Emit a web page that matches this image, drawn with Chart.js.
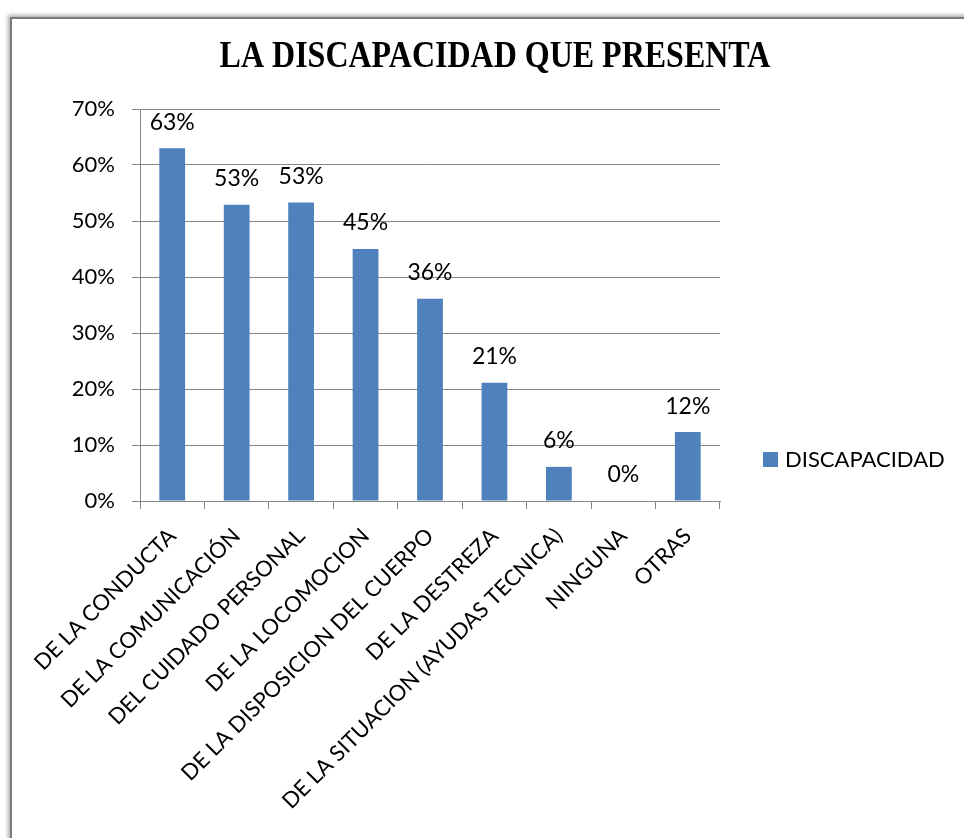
<!DOCTYPE html>
<html>
<head>
<meta charset="utf-8">
<script src="https://cdn.jsdelivr.net/npm/chart.js@4.4.1/dist/chart.umd.min.js"></script>
<style>
  html, body { margin: 0; padding: 0; background: #fff; overflow: hidden; }
  #frame {
    position: absolute; left: 10px; top: 17px; width: 1000px; height: 900px;
    border: 2px solid #7a7a7a; box-shadow: -2px -2px 4px #b0b0b0, 2px 2px 4px #b0b0b0;
  }
  #wrap { position: absolute; left: 0; top: 0; width: 964px; height: 838px; }
</style>
</head>
<body>
<div id="frame"></div>
<div id="wrap"><canvas id="myChart" width="964" height="838"></canvas></div>
<script>
// data
const categories = [
  "DE LA CONDUCTA", "DE LA COMUNICACIÓN", "DEL CUIDADO PERSONAL", "DE LA LOCOMOCION",
  "DE LA DISPOSICION DEL CUERPO", "DE LA DESTREZA", "DE LA SITUACION (AYUDAS TECNICA)",
  "NINGUNA", "OTRAS"
];
const discapacidad = [0.63, 0.529, 0.533, 0.45, 0.361, 0.211, 0.061, 0, 0.123];
const valueLabels = ["63%", "53%", "53%", "45%", "36%", "21%", "6%", "0%", "12%"];
const seriesName = "DISCAPACIDAD";
const titleText = "LA DISCAPACIDAD QUE PRESENTA";

const barBlue = "#4F81BD";
const gridGray = "#868686";
const labelFont = "Lato, 'Noto Sans', sans-serif";

// title, centred on the whole frame rather than the plot
const frameTitle = {
  id: "frameTitle",
  afterDraw(chart) {
    const ctx = chart.ctx;
    ctx.save();
    ctx.translate(495, 57);
    ctx.scale(1, 1.2);
    ctx.font = "bold 32px 'Liberation Serif', 'Times New Roman', serif";
    ctx.fillStyle = "#000";
    ctx.textAlign = "center";
    ctx.textBaseline = "middle";
    ctx.fillText(titleText, 0, 0);
    ctx.restore();
  }
};

// value labels above bars
const barLabels = {
  id: "barLabels",
  afterDatasetsDraw(chart) {
    const ctx = chart.ctx;
    const meta = chart.getDatasetMeta(0);
    ctx.save();
    ctx.font = "23px " + labelFont;
    ctx.fillStyle = "#000";
    ctx.textAlign = "center";
    ctx.textBaseline = "middle";
    meta.data.forEach((bar, i) => {
      ctx.fillText(valueLabels[i], bar.x, bar.y - 26);
    });
    ctx.restore();
  }
};

// legend on the right, like the excel one
const sideLegend = {
  id: "sideLegend",
  afterDraw(chart) {
    const ctx = chart.ctx;
    ctx.save();
    ctx.fillStyle = barBlue;
    ctx.fillRect(763, 452, 15, 15);
    ctx.font = "22px " + labelFont;
    ctx.fillStyle = "#000";
    ctx.textBaseline = "middle";
    ctx.textAlign = "left";
    ctx.fillText(seriesName, 785, 460);
    ctx.restore();
  }
};

const ctx = document.getElementById("myChart").getContext("2d");
new Chart(ctx, {
  type: "bar",
  data: {
    labels: categories,
    datasets: [{
      label: seriesName,
      data: discapacidad,
      backgroundColor: barBlue,
      barPercentage: 0.4,
      categoryPercentage: 1.0
    }]
  },
  options: {
    responsive: false,
    animation: false,
    layout: { padding: { left: 0, right: 244, top: 109, bottom: 0 } },
    plugins: {
      legend: { display: false },
      tooltip: { enabled: false },
      title: { display: false }
    },
    scales: {
      x: {
        afterFit(scale) { scale.height = 337; },
        grid: { offset: true, drawOnChartArea: false, color: gridGray, tickLength: 8 },
        border: { color: gridGray },
        ticks: {
          color: "#000",
          font: { family: labelFont, size: 22 },
          minRotation: 45,
          maxRotation: 45,
          padding: 14,
          autoSkip: false
        }
      },
      y: {
        min: 0,
        max: 0.7,
        afterFit(scale) { scale.width = 140; },
        grid: { color: gridGray, tickLength: 8 },
        border: { color: gridGray },
        ticks: {
          stepSize: 0.1,
          color: "#000",
          padding: 17,
          font: { family: labelFont, size: 22 },
          callback: v => Math.round(v * 100) + "%"
        }
      }
    }
  },
  plugins: [barLabels, sideLegend, frameTitle]
});
</script>
</body>
</html>
